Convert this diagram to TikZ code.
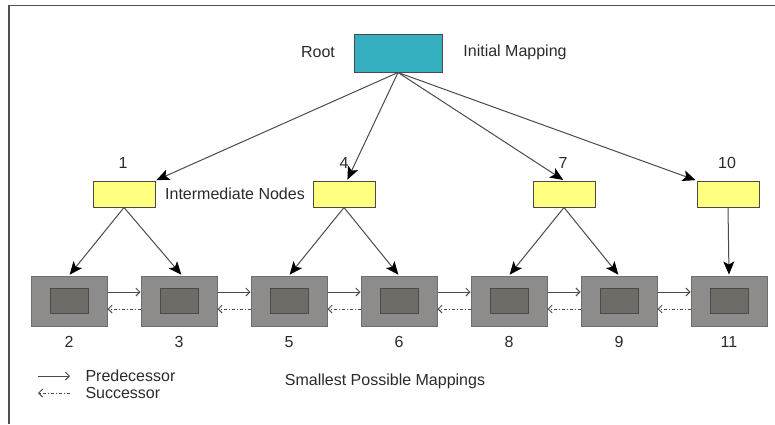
\documentclass[tikz,border=0pt]{standalone}
\usepackage{fontspec}
\setmainfont{Liberation Sans}
\usepackage{tikz}
\usetikzlibrary{arrows.meta,positioning,calc}
\definecolor{RootColor}{HTML}{33AFC0}
\definecolor{MidColor}{HTML}{FFFF80}
\definecolor{LeafOuter}{HTML}{8E8C8A}
\definecolor{LeafInner}{HTML}{6F6B67}
\definecolor{EdgeGrey}{HTML}{4A4A4A}
\definecolor{FrameGrey}{HTML}{505050}
\definecolor{TextGrey}{HTML}{2A2A2A}

\begin{document}
\begin{tikzpicture}[x=1pt,y=-1pt,
    font=\fontsize{16}{19}\selectfont,text=TextGrey,
    rootbox/.style={draw=EdgeGrey,line width=1pt,fill=RootColor,minimum width=88pt,minimum height=38pt,inner sep=0pt},
    midbox/.style={draw=EdgeGrey,line width=1pt,fill=MidColor,minimum width=62pt,minimum height=26pt,inner sep=0pt},
    leafbox/.style={draw=EdgeGrey!80,line width=1pt,fill=LeafOuter,minimum width=76pt,minimum height=50pt,inner sep=0pt},
    leafcore/.style={draw=EdgeGrey,line width=1pt,fill=LeafInner,minimum width=38pt,minimum height=25pt,inner sep=0pt},
    tree/.style={draw=EdgeGrey,line width=1pt,shorten >=1pt,-{Stealth[length=13pt,width=11pt,inset=3pt,black]}},
    pred/.style={draw=EdgeGrey,line width=0.9pt,-{Straight Barb[length=4pt,width=8pt]}},
    succ/.style={draw=EdgeGrey,line width=0.9pt,dash pattern=on 3pt off 2pt on 1pt off 2pt,-{Straight Barb[length=4pt,width=8pt]}}]
  \useasboundingbox (0,0) rectangle (775,424);
  \draw[FrameGrey,line width=1.5pt] (775,5.5) -- (9,5.5) -- (9,424);

  % root
  \node[rootbox] (root) at (398,53){};
  \node (roottxt) at (318,52){Root};
  \node (inittxt) at (515,52){Initial Mapping};

  % intermediate nodes
  \node[midbox] (m1) at (124,194){};
  \node[midbox] (m4) at (344,194){};
  \node[midbox] (m7) at (564,194){};
  \node[midbox] (m10) at (728,194){};
  \node (n1) at (123,163){1};
  \node (n4) at (344,163){4};
  \node (n7) at (563,163){7};
  \node (n10) at (727,163){10};
  \node (midtxt) at (235,194){Intermediate Nodes};

  \draw[tree] (root.south) -- (m1.north east);
  \draw[tree] (root.south) -- ([xshift=3pt]m4.north);
  \draw[tree] (root.south) -- (m7.north);
  \draw[tree] (root.south) -- (m10.north west);

  % smallest mappings
  \node[leafbox] (b2) at (69,301){};
  \node[leafbox] (b3) at (179,301){};
  \node[leafbox] (b5) at (289,301){};
  \node[leafbox] (b6) at (399,301){};
  \node[leafbox] (b8) at (509,301){};
  \node[leafbox] (b9) at (619,301){};
  \node[leafbox] (b11) at (729,301){};
  \node[leafcore] (c2) at (b2){};
  \node[leafcore] (c3) at (b3){};
  \node[leafcore] (c5) at (b5){};
  \node[leafcore] (c6) at (b6){};
  \node[leafcore] (c8) at (b8){};
  \node[leafcore] (c9) at (b9){};
  \node[leafcore] (c11) at (b11){};
  \node[below=6pt of b2] (l2){2};
  \node[below=6pt of b3] (l3){3};
  \node[below=6pt of b5] (l5){5};
  \node[below=6pt of b6] (l6){6};
  \node[below=6pt of b8] (l8){8};
  \node[below=6pt of b9] (l9){9};
  \node[below=6pt of b11] (l11){11};

  \draw[tree] (m1.south) -- (b2.north);
  \draw[tree] (m1.south) -- ([xshift=3pt]b3.north);
  \draw[tree] (m4.south) -- (b5.north);
  \draw[tree] (m4.south) -- (b6.north);
  \draw[tree] (m7.south) -- (b8.north);
  \draw[tree] (m7.south) -- (b9.north);
  \draw[tree] (m10.south) -- (b11.north);

  \draw[pred] ([yshift=9pt]b2.east) -- ([yshift=9pt]b3.west);
  \draw[pred] ([yshift=9pt]b3.east) -- ([yshift=9pt]b5.west);
  \draw[pred] ([yshift=9pt]b5.east) -- ([yshift=9pt]b6.west);
  \draw[pred] ([yshift=9pt]b6.east) -- ([yshift=9pt]b8.west);
  \draw[pred] ([yshift=9pt]b8.east) -- ([yshift=9pt]b9.west);
  \draw[pred] ([yshift=9pt]b9.east) -- ([yshift=9pt]b11.west);
  \draw[succ] ([yshift=-8pt]b3.west) -- ([yshift=-8pt]b2.east);
  \draw[succ] ([yshift=-8pt]b5.west) -- ([yshift=-8pt]b3.east);
  \draw[succ] ([yshift=-8pt]b6.west) -- ([yshift=-8pt]b5.east);
  \draw[succ] ([yshift=-8pt]b8.west) -- ([yshift=-8pt]b6.east);
  \draw[succ] ([yshift=-8pt]b9.west) -- ([yshift=-8pt]b8.east);
  \draw[succ] ([yshift=-8pt]b11.west) -- ([yshift=-8pt]b9.east);

  % legend
  \node[right] (predtxt) at (82,376){Predecessor};
  \node[right] (succtxt) at (82,393){Successor};
  \coordinate (lp) at (38,376);
  \coordinate (ls) at (38,393);
  \draw[pred] (lp) -- ([xshift=-12pt]predtxt.west);
  \draw[succ] ([xshift=-12pt]succtxt.west) -- (ls);
  \node (smalltxt) at (385,381){Smallest Possible Mappings};
\end{tikzpicture}
\end{document}
